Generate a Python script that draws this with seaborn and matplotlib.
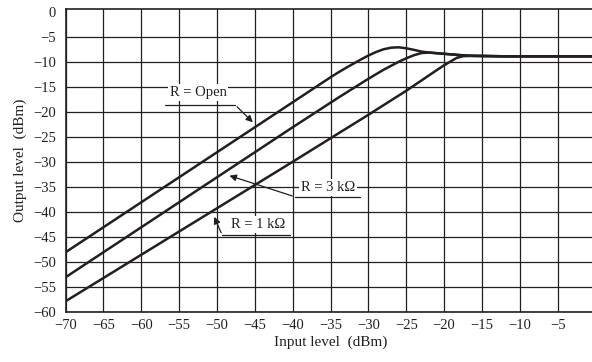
import matplotlib
matplotlib.use("Agg")
import matplotlib.pyplot as plt
import seaborn as sns
import pandas as pd

# ---- data ----
x_open = [-70, -60, -50, -40, -36, -35, -34, -33, -32, -31, -30, -29, -28, -27, -26, -25, -24, -23, -22, -20, -18, -16.5, -12, -5, 0]
y_open = [-48, -38, -28, -18, -14.0, -13.0, -12.05, -11.15, -10.3, -9.45, -8.65, -7.95, -7.4, -7.08, -7.0, -7.2, -7.5, -7.85, -8.05, -8.3, -8.55, -8.7, -8.8, -8.8, -8.8]

x_3k = [-70, -60, -50, -40, -34, -32, -30, -28, -27, -26, -25, -24, -23, -22, -20, -18, -16.5, -12, -5, 0]
y_3k = [-53, -43, -33, -23, -17.1, -15.2, -13.3, -11.5, -10.7, -9.9, -9.2, -8.6, -8.15, -8.05, -8.3, -8.55, -8.7, -8.8, -8.8, -8.8]

x_1k = [-70, -60, -50, -40, -30, -25, -21, -20, -19, -18.3, -17.5, -16.5, -12, -5, 0]
y_1k = [-57.8, -48.5, -39.2, -29.9, -20.5, -15.7, -11.6, -10.6, -9.7, -9.1, -8.78, -8.72, -8.8, -8.8, -8.8]

x_ticks = list(range(-70, 1, 5))
y_ticks = list(range(-60, 1, 5))

labels = ["R = Open", "R = 3 k\u03a9", "R = 1 k\u03a9"]

df = pd.concat([
    pd.DataFrame({"x": x_open, "y": y_open, "R": labels[0]}),
    pd.DataFrame({"x": x_3k, "y": y_3k, "R": labels[1]}),
    pd.DataFrame({"x": x_1k, "y": y_1k, "R": labels[2]}),
])

sns.set_theme(style="white")
plt.rcParams["font.family"] = ["Liberation Serif", "DejaVu Serif"]
plt.rcParams["axes.unicode_minus"] = True

fig = plt.figure(figsize=(5.92, 3.62), dpi=100)
ax = fig.add_axes([65.5 / 592, 1 - 312.3 / 362, (595.5 - 65.5) / 592, (312.3 - 9.3) / 362])

sns.lineplot(data=df, x="x", y="y", hue="R", palette=["#231f20"] * 3,
             linewidth=1.8, legend=False, sort=False, estimator=None, ax=ax, zorder=5,
             solid_joinstyle="round", solid_capstyle="round")

ax.set_xlim(-70, 0)
ax.set_ylim(-60, 0.6)
ax.set_xticks(x_ticks)
ax.set_yticks(y_ticks)
ax.set_xticklabels([f"\u2212{abs(v)}" if v < 0 else str(v) for v in x_ticks])
ax.set_yticklabels([f"\u2212{abs(v)}" if v < 0 else str(v) for v in y_ticks])
ax.tick_params(axis="both", length=0, labelsize=10.5, colors="#231f20")
ax.tick_params(axis="y", pad=7)
ax.tick_params(axis="x", pad=5)

ax.grid(True, color="#231f20", linewidth=0.9)
for gl, v in zip(ax.yaxis.get_gridlines(), y_ticks):
    if v == 0:
        gl.set_visible(False)
for s in ax.spines.values():
    s.set_color("#231f20")
    s.set_linewidth(1.2)

ax.set_xlabel("Input level  (dBm)", fontsize=11, color="#231f20", labelpad=2)
ax.set_ylabel("Output level  (dBm)", fontsize=11, color="#231f20", labelpad=4)

box = dict(facecolor="white", edgecolor="none", pad=1.5)
ink = "#231f20"

# R = Open
ax.text(-52.5, -16.1, labels[0], ha="center", va="center", fontsize=10.5, color=ink, bbox=box, zorder=6)
ax.plot([-56.9, -47.6], [-18.5, -18.5], color=ink, lw=0.9, zorder=6)
ax.annotate("", xy=(-45.0, -22.4), xytext=(-47.6, -18.5),
            arrowprops=dict(arrowstyle="-|>", color=ink, lw=0.9, mutation_scale=10), zorder=6)

# R = 3 kOhm
ax.text(-35.3, -35.1, labels[1], ha="center", va="center", fontsize=10.5, color=ink, bbox=box, zorder=6)
ax.plot([-39.7, -31.1], [-36.9, -36.9], color=ink, lw=0.9, zorder=6)
ax.annotate("", xy=(-48.7, -32.5), xytext=(-39.7, -36.9),
            arrowprops=dict(arrowstyle="-|>", color=ink, lw=0.9, mutation_scale=10), zorder=6)

# R = 1 kOhm
ax.text(-44.6, -42.5, labels[2], ha="center", va="center", fontsize=10.5, color=ink, bbox=box, zorder=6)
ax.plot([-49.3, -40.3], [-44.6, -44.6], color=ink, lw=0.9, zorder=6)
ax.annotate("", xy=(-50.5, -40.4), xytext=(-49.3, -44.6),
            arrowprops=dict(arrowstyle="-|>", color=ink, lw=0.9, mutation_scale=10), zorder=6)

fig.savefig("out.png", dpi=100)
